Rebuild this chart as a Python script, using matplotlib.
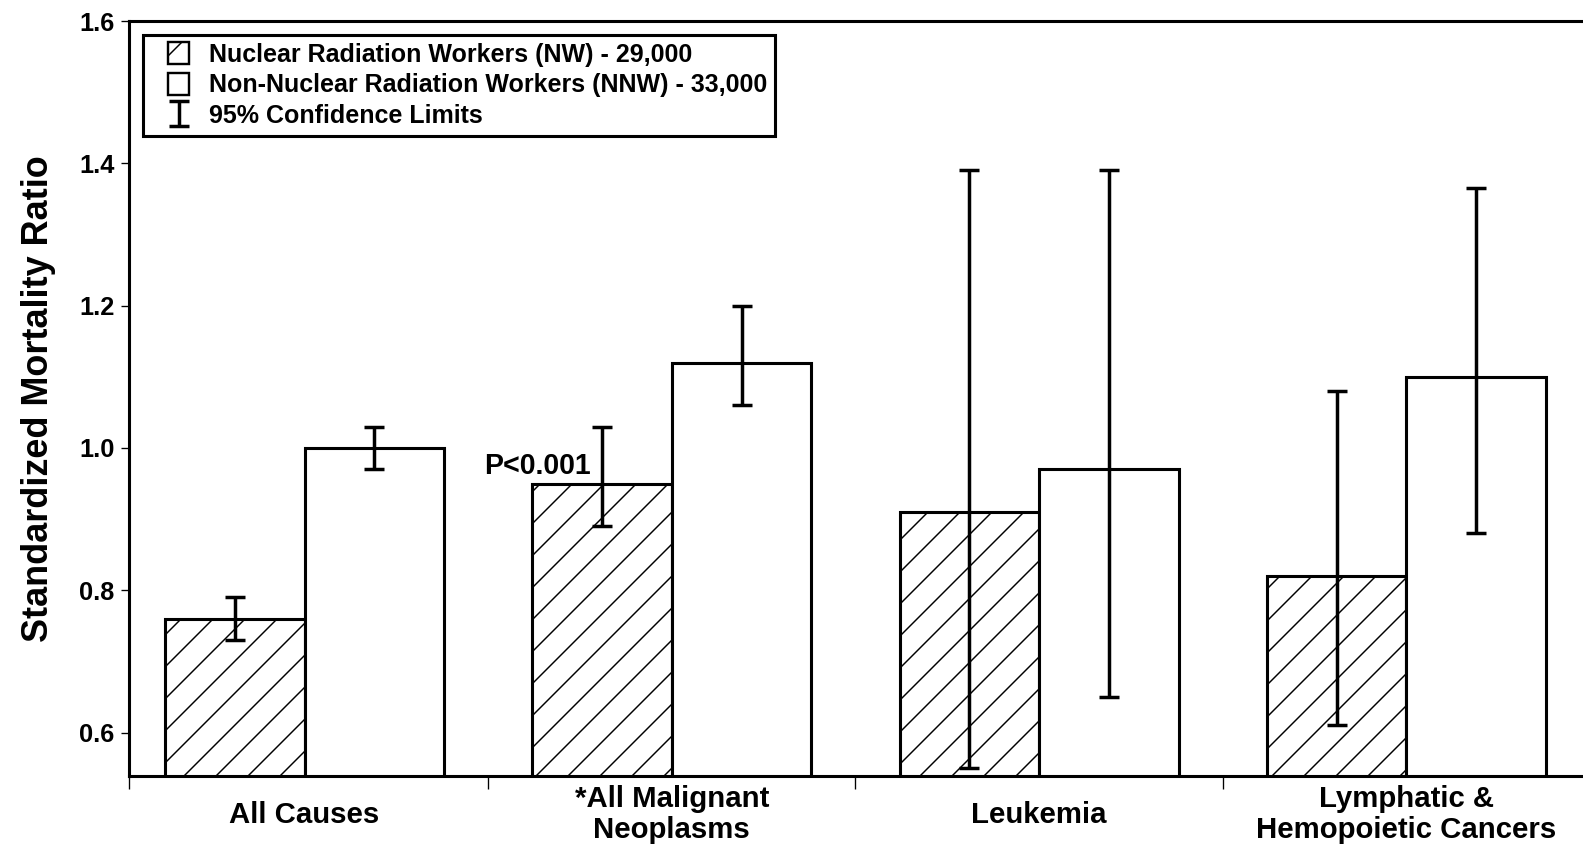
import matplotlib
matplotlib.use("Agg")
import numpy as np
import matplotlib.pyplot as plt
from matplotlib.patches import Patch
from matplotlib.container import ErrorbarContainer
from matplotlib.legend_handler import HandlerPatch, HandlerErrorbar

# ---- data ----
categories = ["All Causes", "*All Malignant\nNeoplasms", "Leukemia", "Lymphatic &\nHemopoietic Cancers"]
nw_smr = [0.76, 0.95, 0.91, 0.82]
nw_low = [0.73, 0.89, 0.55, 0.61]
nw_high = [0.79, 1.03, 1.39, 1.08]
nnw_smr = [1.00, 1.12, 0.97, 1.10]
nnw_low = [0.97, 1.06, 0.65, 0.88]
nnw_high = [1.03, 1.20, 1.39, 1.365]
legend_labels = ["Nuclear Radiation Workers (NW) - 29,000",
                 "Non-Nuclear Radiation Workers (NNW) - 33,000",
                 "95% Confidence Limits"]
y_ticks = [0.6, 0.8, 1.0, 1.2, 1.4, 1.6]

plt.rcParams['font.family'] = ['Liberation Sans', 'DejaVu Sans']
plt.rcParams['hatch.linewidth'] = 0.55

DPI = 192
fig = plt.figure(figsize=(1583 / DPI, 850 / DPI), dpi=DPI)
ax = fig.add_axes([129 / 1583, 1 - 776 / 850, 1 - 129 / 1583, (776 - 21) / 850])

x = np.arange(len(categories))
w = 0.38
lw = 1.15

ax.bar(x - w / 2, nw_smr, width=w, bottom=0, facecolor="white", edgecolor="black",
       hatch="//", linewidth=lw, zorder=2)
ax.bar(x + w / 2, nnw_smr, width=w, bottom=0, facecolor="white", edgecolor="black",
       linewidth=lw, zorder=2)

nw_err = [np.array(nw_smr) - np.array(nw_low), np.array(nw_high) - np.array(nw_smr)]
nnw_err = [np.array(nnw_smr) - np.array(nnw_low), np.array(nnw_high) - np.array(nnw_smr)]
ax.errorbar(x - w / 2, nw_smr, yerr=nw_err, fmt="none", ecolor="black",
            elinewidth=1.3, capsize=3.8, capthick=1.3, zorder=3)
eb = ax.errorbar(x + w / 2, nnw_smr, yerr=nnw_err, fmt="none", ecolor="black",
                 elinewidth=1.3, capsize=3.8, capthick=1.3, zorder=3)

ax.text(1 - w / 2 - 0.03, 0.975, "P<0.001", ha="right", va="center",
        fontsize=10.7, fontweight="bold")

ax.set_ylim(0.539, 1.6)
ax.set_xlim(-0.478, 3.481)
ax.set_yticks(y_ticks)
ax.set_yticklabels([f"{t:.1f}" for t in y_ticks], fontsize=9.5, fontweight="bold")
ax.tick_params(axis="y", length=3, width=0.5, pad=2.5)

ax.set_xticks(x)
ax.set_xticklabels(categories, fontsize=11.0, fontweight="bold", linespacing=1.15)
for lab in ax.get_xticklabels():
    lab.set_va("center")
ax.tick_params(axis="x", which="major", length=0, pad=14.5)
ax.set_xticks([-0.478, 0.5, 1.5, 2.5], minor=True)
ax.tick_params(axis="x", which="minor", length=5, width=0.5)

ax.set_ylabel("Standardized Mortality Ratio", fontsize=13.5, fontweight="bold", labelpad=8.5)

for s in ["left", "top", "bottom"]:
    ax.spines[s].set_linewidth(1.15)
ax.spines["right"].set_visible(False)

handles = [Patch(facecolor="white", edgecolor="black", hatch="//", linewidth=0.9),
           Patch(facecolor="white", edgecolor="black", linewidth=0.9),
           eb]
hmap = {Patch: HandlerPatch(xpad=0.7), ErrorbarContainer: HandlerErrorbar(xpad=0.7)}
leg = ax.legend(handles, legend_labels, loc="upper left",
                prop={"weight": "semibold", "size": 9.4},
                frameon=True, fancybox=False, edgecolor="black", framealpha=1,
                handler_map=hmap,
                handlelength=1.55, handleheight=0.95, handletextpad=0.8,
                labelspacing=0.25, borderpad=0.3, borderaxespad=0.55)
leg.get_frame().set_linewidth(1.15)

fig.savefig("out.png", dpi=DPI)
